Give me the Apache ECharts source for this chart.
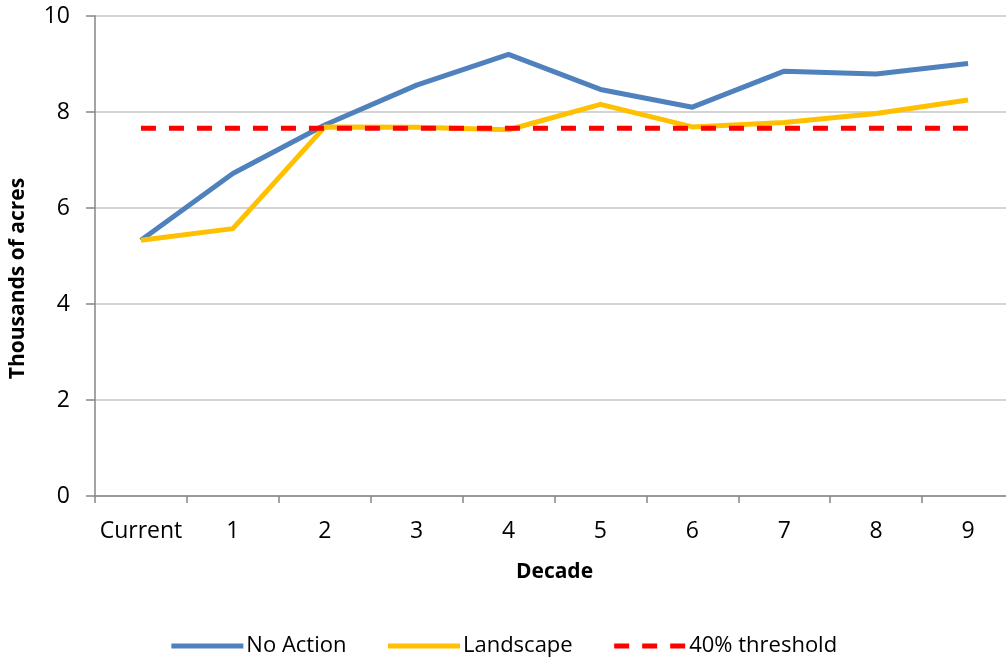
<!DOCTYPE html>
<html>
<head>
<meta charset="utf-8">
<title>Thousands of acres by decade</title>
<script src="https://cdn.jsdelivr.net/npm/echarts@6/dist/echarts.min.js"></script>
<style>
  html, body { margin: 0; padding: 0; background: #fff; }
  #chart { width: 1006px; height: 658px; }
</style>
</head>
<body>
<div id="chart"></div>
<script>
// decades on the x axis
let decades = ['Current', '1', '2', '3', '4', '5', '6', '7', '8', '9'];

// thousands of acres
let noAction = [5.33, 6.72, 7.73, 8.56, 9.2, 8.47, 8.1, 8.85, 8.79, 9.01];
let landscape = [5.33, 5.57, 7.69, 7.68, 7.63, 8.16, 7.69, 7.78, 7.97, 8.25];
let threshold = [7.66, 7.66, 7.66, 7.66, 7.66, 7.66, 7.66, 7.66, 7.66, 7.66];

let yTicks = { min: 0, max: 10, interval: 2 };

const font = '"Open Sans", "DejaVu Sans", sans-serif';
const axisGray = '#868686';

let lineSeries = (name, data, color, type) => {
  return {
    name: name,
    type: 'line',
    data: data,
    symbol: 'none',
    silent: true,
    animation: false,
    lineStyle: {
      color: color,
      width: 5,
      type: type || 'solid',
      cap: 'butt',
      join: 'round'
    },
    itemStyle: { color: color }
  };
};

let chart = echarts.init(document.getElementById('chart'), null, { renderer: 'canvas' });

let options = {
  backgroundColor: '#fff',
  animation: false,
  textStyle: { fontFamily: font, color: '#000' },
  grid: {
    left: 95,
    top: 16,
    width: 919,
    height: 480,
    outerBoundsMode: 'none'
  },
  legend: {
    top: 630,
    left: 'center',
    itemWidth: 72,
    itemHeight: 14,
    itemGap: 39,
    itemStyle: { opacity: 0 },
    lineStyle: { width: 5 },
    textStyle: { fontFamily: font, fontSize: 22, color: '#000', padding: [0, 0, 0, -2] },
    data: ['No Action', 'Landscape', '40% threshold']
  },
  xAxis: {
    type: 'category',
    data: decades,
    boundaryGap: true,
    name: 'Decade',
    nameLocation: 'middle',
    nameGap: 66,
    nameMoveOverlap: false,
    nameTextStyle: { fontFamily: font, fontSize: 21, fontWeight: 'bold', color: '#000' },
    axisLine: { lineStyle: { color: axisGray, width: 1.5 } },
    axisTick: { show: true, interval: 0, length: 7, lineStyle: { color: axisGray, width: 1.5 } },
    axisLabel: { fontFamily: font, fontSize: 23, color: '#000', margin: 24, interval: 0 },
    splitLine: { show: false }
  },
  yAxis: {
    type: 'value',
    min: yTicks.min,
    max: yTicks.max,
    interval: yTicks.interval,
    name: 'Thousands of acres',
    nameLocation: 'middle',
    nameGap: 66,
    nameMoveOverlap: false,
    nameTextStyle: { fontFamily: font, fontSize: 21, fontWeight: 'bold', color: '#000', padding: [0, 45, 0, 0] },
    axisLine: { show: true, lineStyle: { color: axisGray, width: 1.5 } },
    axisTick: { show: true, length: 9, lineStyle: { color: axisGray, width: 1.5 } },
    axisLabel: { fontFamily: font, fontSize: 23, color: '#000', margin: 25 },
    splitLine: { show: true, lineStyle: { color: '#C6C6C6', width: 1.5 } }
  },
  series: [
    lineSeries('No Action', noAction, '#4F81BD'),
    lineSeries('Landscape', landscape, '#FFC000'),
    lineSeries('40% threshold', threshold, '#FF0000', [15, 13])
  ]
};

chart.setOption(options);
</script>
</body>
</html>
